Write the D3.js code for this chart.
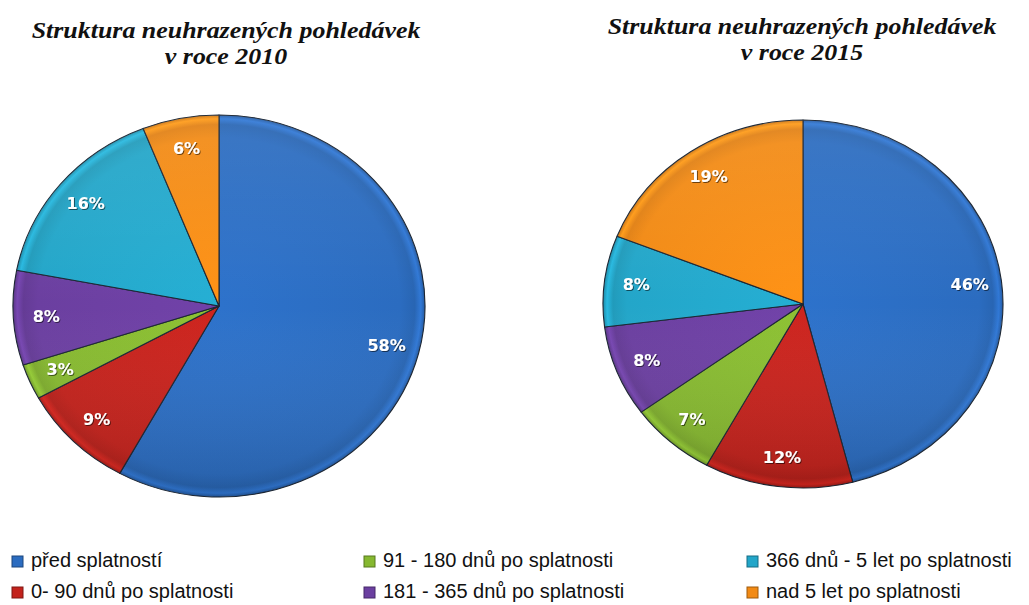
<!DOCTYPE html>
<html><head><meta charset="utf-8">
<script src="https://cdn.jsdelivr.net/npm/d3@7"></script>
<style>
body{margin:0;background:#fff;}
svg{display:block;}
</style></head>
<body><svg id="c" width="1029" height="605"></svg>
<script>
const categories = ["před splatností","0- 90 dnů po splatnosti","91 - 180 dnů po splatnosti","181 - 365 dnů  po splatnosti","366 dnů  - 5 let po splatnosti","nad 5 let po splatnosti"];
const values2010 = [58, 9, 3, 8, 16, 6];
const values2015 = [46, 12, 7, 8, 8, 19];
const titles2010 = ["Struktura neuhrazených pohledávek","v roce 2010"];
const titles2015 = ["Struktura neuhrazených pohledávek","v roce 2015"];
const colors = ["#2b6cc0","#c3221c","#86b830","#6b3fa0","#23a6c9","#f28a14"];

const svg = d3.select("#c");
const defs = svg.append("defs");
function makeGrads(prefix, r){
  colors.forEach((c,i)=>{
    const g = defs.append("radialGradient").attr("id",prefix+i)
      .attr("gradientUnits","userSpaceOnUse").attr("cx",0).attr("cy",0).attr("r",r);
    const col = d3.color(c);
    g.append("stop").attr("offset","0%").attr("stop-color",col.brighter(0.15));
    g.append("stop").attr("offset","88%").attr("stop-color",col);
    g.append("stop").attr("offset","95%").attr("stop-color",col.darker(0.2));
    g.append("stop").attr("offset","98%").attr("stop-color",col.brighter(0.3));
    g.append("stop").attr("offset","100%").attr("stop-color",col.darker(0.5));
  });
}
const shade = defs.append("linearGradient").attr("id","shade").attr("x1",0).attr("y1",0).attr("x2",0).attr("y2",1);
shade.append("stop").attr("offset","0%").attr("stop-color","#fff").attr("stop-opacity",0.08);
shade.append("stop").attr("offset","50%").attr("stop-color","#fff").attr("stop-opacity",0);
shade.append("stop").attr("offset","100%").attr("stop-color","#000").attr("stop-opacity",0.12);

const f = defs.append("filter").attr("id","ts").attr("x","-20%").attr("y","-30%").attr("width","140%").attr("height","160%");
f.append("feDropShadow").attr("dx",1).attr("dy",1).attr("stdDeviation",0.7).attr("flood-color","#000").attr("flood-opacity",0.55);

function drawPie(key, values, cx, cy, rx, ry, titleLines, tx, ty){
  const sx = rx/ry;
  makeGrads(key, ry);
  const pie = d3.pie().sort(null).value(d=>d);
  const arcs = pie(values);
  const arc = d3.arc().innerRadius(0).outerRadius(ry);
  const lab = d3.arc().innerRadius(ry*0.84).outerRadius(ry*0.84);
  const g = svg.append("g").attr("transform",`translate(${cx},${cy}) scale(${sx},1)`);
  g.selectAll("path.s").data(arcs).join("path").attr("class","s")
    .attr("d",arc)
    .attr("fill",(d,i)=>`url(#${key}${i})`)
    .attr("stroke","#1c2633").attr("stroke-width",1.1).attr("vector-effect","non-scaling-stroke")
    .attr("stroke-linejoin","round");
  g.append("circle").attr("r",ry).attr("fill","url(#shade)").attr("pointer-events","none");
  svg.append("g").selectAll("text").data(arcs).join("text")
    .attr("x",d=>cx+lab.centroid(d)[0]*sx)
    .attr("y",d=>cy+lab.centroid(d)[1])
    .attr("text-anchor","middle").attr("dominant-baseline","central")
    .attr("fill","#fff").attr("font-family","DejaVu Sans").attr("font-weight","bold").attr("font-size",16)
    .attr("filter","url(#ts)")
    .text(d=>d.data+"%");
  svg.append("text").attr("transform",`translate(${tx},${ty}) scale(1.08,1)`)
    .attr("text-anchor","middle").attr("font-family","Liberation Serif").attr("font-style","italic").attr("font-weight","bold").attr("font-size",24)
    .attr("fill","#111")
    .selectAll("tspan").data(titleLines).join("tspan")
    .attr("x",0).attr("y",(d,i)=>i*26).text(d=>d);
}
drawPie("a", values2010, 219, 306, 206, 191, titles2010, 226, 38);
drawPie("b", values2015, 803, 304, 200, 184, titles2015, 802, 34);

// legend
const legPos = [[12,567],[12,598],[364,567],[364,598],[747,567],[747,598]];
const leg = svg.append("g");
categories.forEach((c,i)=>{
  const [x,y] = legPos[i];
  const col = d3.color(colors[i]);
  leg.append("rect").attr("x",x).attr("y",y-11).attr("width",11).attr("height",11)
    .attr("fill",colors[i]).attr("stroke",col.darker(1.2)).attr("stroke-width",1);
  leg.append("text").attr("x",x+19).attr("y",y)
    .attr("font-family","Liberation Sans, Arial").attr("font-size",20)
    .attr("fill","#111").text(c);
});
</script></body></html>
